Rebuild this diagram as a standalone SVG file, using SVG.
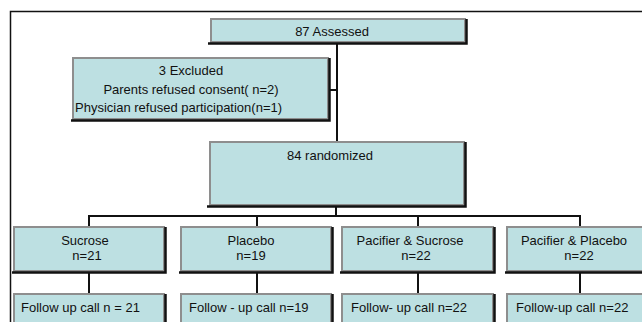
<svg xmlns="http://www.w3.org/2000/svg" width="642" height="322" viewBox="0 0 642 322">
<style>
.box{fill:#bde0e2;stroke:#8e8e8e;stroke-width:2}
.sh{fill:none;stroke:#111;stroke-width:2.5}
.ln{fill:none;stroke:#111;stroke-width:2}
text{font-family:"Liberation Sans",Arial,sans-serif;font-size:13px;fill:#111}
.c{text-anchor:middle}
</style>
<rect width="642" height="322" fill="#fff"/>
<path d="M10.5,322 V11.5 H642" fill="none" stroke="#111" stroke-width="1.5"/>
<g id="connectors">
<path class="ln" d="M337,44 V142"/>
<path class="ln" d="M330,90 H337"/>
<path class="ln" d="M336,207 V216"/>
<path class="ln" d="M89,227 V216 H580 V227"/>
<path class="ln" d="M257,216 V227"/>
<path class="ln" d="M418,216 V227"/>
<path class="ln" d="M89,273 V294"/>
<path class="ln" d="M257,273 V294"/>
<path class="ln" d="M418,273 V294"/>
<path class="ln" d="M580,273 V294"/>
</g>
<g id="assessed">
<rect class="box" x="211" y="19" width="254" height="23"/>
<path class="sh" d="M466.5,19 V43.5 H208"/>
<text x="332" y="36" class="c">87 Assessed</text>
</g>
<g id="excluded">
<rect class="box" x="73" y="58" width="255" height="61"/>
<path class="sh" d="M329.5,58 V120.5 H71"/>
<text x="191" y="75" class="c">3 Excluded</text>
<text x="191" y="94" class="c">Parents refused consent( n=2)</text>
<text x="75" y="112">Physician refused participation(n=1)</text>
</g>
<g id="randomized">
<rect class="box" x="210" y="142" width="254" height="63"/>
<path class="sh" d="M465.5,142 V206.5 H207"/>
<text x="330" y="160" class="c">84 randomized</text>
</g>
<g id="sucrose">
<rect class="box" x="14" y="227" width="150" height="44"/>
<path class="sh" d="M165.5,227 V272.5 H12"/>
<text x="85" y="245" class="c">Sucrose</text>
<text x="87" y="260" class="c">n=21</text>
</g>
<g id="placebo">
<rect class="box" x="181" y="227" width="150" height="44"/>
<path class="sh" d="M332.5,227 V272.5 H179"/>
<text x="251" y="245" class="c">Placebo</text>
<text x="251" y="260" class="c">n=19</text>
</g>
<g id="pacsuc">
<rect class="box" x="342" y="227" width="151" height="44"/>
<path class="sh" d="M494.5,227 V272.5 H340"/>
<text x="410" y="245" class="c">Pacifier &amp; Sucrose</text>
<text x="416" y="260" class="c">n=22</text>
</g>
<g id="pacpla">
<rect class="box" x="507" y="227" width="151" height="44"/>
<path class="sh" d="M659.5,227 V272.5 H505"/>
<text x="574" y="245" class="c">Pacifier &amp; Placebo</text>
<text x="579" y="260" class="c">n=22</text>
</g>
<g id="fu1">
<rect class="box" x="14" y="294" width="150" height="40"/>
<path class="sh" d="M165.5,294 V335"/>
<text x="21" y="312">Follow up call n = 21</text>
</g>
<g id="fu2">
<rect class="box" x="181" y="294" width="150" height="40"/>
<path class="sh" d="M332.5,294 V335"/>
<text x="189" y="312">Follow - up call n=19</text>
</g>
<g id="fu3">
<rect class="box" x="342" y="294" width="151" height="40"/>
<path class="sh" d="M494.5,294 V335"/>
<text x="351" y="312">Follow- up call n=22</text>
</g>
<g id="fu4">
<rect class="box" x="507" y="294" width="151" height="40"/>
<text x="516" y="312">Follow-up call n=22</text>
</g>
</svg>
